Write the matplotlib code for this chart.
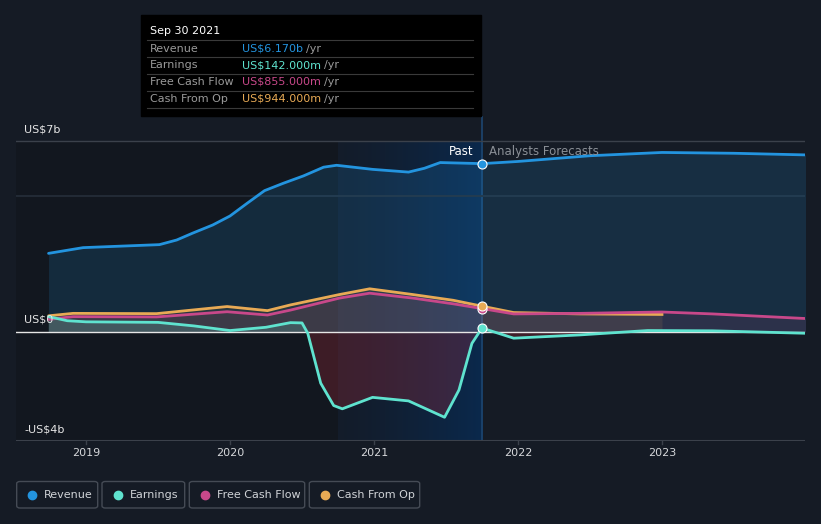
import numpy as np
import matplotlib
matplotlib.use("Agg")
import matplotlib.pyplot as plt
from matplotlib.patches import Rectangle, FancyBboxPatch
from matplotlib.lines import Line2D

W, H = 821, 524
BG = "#151b25"

# values in US$ billions, x in fractional years
rev_x = [2018.74, 2018.98, 2019.17, 2019.51, 2019.63, 2019.74, 2019.88, 2020.0, 2020.12,
         2020.24, 2020.37, 2020.51, 2020.65, 2020.74, 2020.99, 2021.24, 2021.35, 2021.46, 2021.75]
rev_y = [2.88, 3.09, 3.13, 3.20, 3.37, 3.62, 3.92, 4.25, 4.72,
         5.18, 5.45, 5.72, 6.04, 6.11, 5.96, 5.86, 6.00, 6.21, 6.17]
rev_fx = [2021.75, 2022.0, 2022.5, 2023.0, 2023.5, 2024.0]
rev_fy = [6.17, 6.25, 6.46, 6.58, 6.55, 6.49]

earn_x = [2018.74, 2018.87, 2019.0, 2019.5, 2019.75, 2020.0, 2020.25, 2020.42, 2020.5,
          2020.54, 2020.63, 2020.72, 2020.78, 2020.99, 2021.24, 2021.49, 2021.59, 2021.68, 2021.75]
earn_y = [0.56, 0.41, 0.37, 0.35, 0.22, 0.05, 0.17, 0.34, 0.33,
          -0.05, -1.88, -2.70, -2.82, -2.40, -2.53, -3.13, -2.13, -0.42, 0.142]
earn_fx = [2021.75, 2021.97, 2022.43, 2022.9, 2023.35, 2024.0]
earn_fy = [0.142, -0.23, -0.11, 0.05, 0.04, -0.05]

fcf_x = [2018.74, 2018.91, 2019.49, 2019.98, 2020.26, 2020.42, 2020.76, 2020.97, 2021.27, 2021.55, 2021.75]
fcf_y = [0.46, 0.56, 0.55, 0.74, 0.62, 0.80, 1.24, 1.42, 1.24, 1.03, 0.855]
fcf_fx = [2021.75, 2021.97, 2022.43, 2023.0, 2023.35, 2024.0]
fcf_fy = [0.855, 0.66, 0.68, 0.73, 0.66, 0.49]

cfo_x = [2018.74, 2018.91, 2019.49, 2019.98, 2020.26, 2020.42, 2020.76, 2020.97, 2021.27, 2021.55, 2021.75]
cfo_y = [0.59, 0.68, 0.67, 0.93, 0.78, 0.99, 1.37, 1.58, 1.37, 1.16, 0.944]
cfo_fx = [2021.75, 2021.97, 2022.43, 2023.0]
cfo_fy = [0.944, 0.71, 0.66, 0.64]

years = [2019, 2020, 2021, 2022, 2023]
series = ["Revenue", "Earnings", "Free Cash Flow", "Cash From Op"]
colors = ["#2394df", "#5fe3cf", "#c8488a", "#e8aa55"]
tip_values = ["US$6.170b", "US$142.000m", "US$855.000m", "US$944.000m"]

PAST_START, NOW = 2020.75, 2021.75

fig = plt.figure(figsize=(W / 100, H / 100), dpi=100, facecolor=BG)
x0, x1 = 16 / W, 805 / W
y0, y1 = 1 - 441 / H, 1 - 116 / H
ax = fig.add_axes([x0, y0, x1 - x0, y1 - y0])
ax.set_facecolor(BG)
ymin, ymax = -4, 7 + 25 / 27.27
ax.set_xlim(2018.514, 2023.993)
ax.set_ylim(ymin, ymax)
for s in ax.spines.values():
    s.set_visible(False)
ax.set_yticks([])
ax.set_xticks([])

# darker plot area left of the highlight
ax.axvspan(2018.514, PAST_START, ymin=0, ymax=(7 - ymin) / (ymax - ymin), color="#12171f", lw=0, zorder=0.3)

# past year highlight (gradient -> blue)
n = 256
grad = np.zeros((1, n, 4))
t = np.linspace(0, 1, n)
c0 = np.array([0.075, 0.11, 0.165])
c1 = np.array([0.04, 0.16, 0.30])
grad[0, :, :3] = c0 + (c1 - c0) * t[:, None] ** 1.3
grad[0, :, 3] = 1.0
ax.imshow(grad, extent=[PAST_START, NOW, ymin, 7], aspect="auto", zorder=0.5, interpolation="bilinear")
ax.axvline(NOW, color="#1d4670", lw=1.2, zorder=0.6)

# grid
ax.axhline(7, color="#3b414b", lw=1, zorder=1)
ax.axhline(5, color="#222a35", lw=1.5, zorder=1)
ax.axhline(ymin, color="#3b414b", lw=1.5, zorder=1)

# fills
rx = rev_x + rev_fx[1:]
ry = rev_y + rev_fy[1:]
ax.fill_between(rx, ry, 0, color="#2394df", alpha=0.16, lw=0, zorder=1.2)
ax.fill_between(fcf_x + fcf_fx[1:], fcf_y + fcf_fy[1:], 0, color="#c8488a", alpha=0.12, lw=0, zorder=1.3)
ax.fill_between(cfo_x + cfo_fx[1:], cfo_y + cfo_fy[1:], 0, color="#e8aa55", alpha=0.10, lw=0, zorder=1.3)
ex = np.array(earn_x + earn_fx[1:])
ey = np.array(earn_y + earn_fy[1:])
ax.fill_between(ex, ey, 0, where=ey >= 0, interpolate=True, color="#5fe3cf", alpha=0.18, lw=0, zorder=1.4)
ax.fill_between(ex, ey, 0, where=ey < 0, interpolate=True, color="#d62f3f", alpha=0.22, lw=0, zorder=1.4)

ax.axhline(0, color="#e6e6e6", lw=1, zorder=2)

# lines
lw = 2.0
kw = dict(lw=lw, solid_capstyle="round", solid_joinstyle="round")
ax.plot(rev_x, rev_y, color=colors[0], zorder=3, **kw)
ax.plot(rev_fx, rev_fy, color=colors[0], zorder=3, **kw)
ax.plot(cfo_x, cfo_y, color=colors[3], zorder=3, **kw)
ax.plot(cfo_fx, cfo_fy, color=colors[3], zorder=3, lw=lw, solid_joinstyle="round")
ax.plot(fcf_x, fcf_y, color=colors[2], zorder=3.1, **kw)
ax.plot(fcf_fx, fcf_fy, color=colors[2], zorder=3.1, **kw)
ax.plot(earn_x, earn_y, color=colors[1], zorder=3.2, **kw)
ax.plot(earn_fx, earn_fy, color=colors[1], zorder=3.2, **kw)

# markers at the present
for v, c in [(rev_y[-1], colors[0]), (fcf_y[-1], colors[2]), (cfo_y[-1], colors[3]), (earn_y[-1], colors[1])]:
    ax.plot([NOW], [v], "o", ms=6.5, color=c, mec="white", mew=0.8, zorder=4)

ax.text(NOW - 0.06, 6.62, "Past", color="white", fontsize=8.5, ha="right", va="center", zorder=5)
ax.text(NOW + 0.05, 6.62, "Analysts Forecasts", color="#8a8f96", fontsize=8.5, ha="left", va="center", zorder=5)

# x ticks
for yr in years:
    ax.plot([yr, yr], [ymin, ymin - 0.12], color="#3b414b", lw=1, clip_on=False)
    ax.text(yr, ymin - 0.45, str(yr), color="#d5d7da", fontsize=8, ha="center", va="center")

# y labels
def fx(px):
    return px / W

def fy(py):
    return 1 - py / H

fig.text(fx(24), fy(129), "US$7b", color="#e6e6e6", fontsize=8, va="center")
fig.text(fx(24), fy(320), "US$0", color="#e6e6e6", fontsize=8, va="center")
fig.text(fx(24), fy(429), "-US$4b", color="#e6e6e6", fontsize=8, va="center")

# tooltip
fig.add_artist(Rectangle((fx(141), fy(116)), fx(481) - fx(141), fy(15) - fy(116),
                         transform=fig.transFigure, color="black", zorder=10))
fig.text(fx(150), fy(31), "Sep 30 2021", color="white", fontsize=8, va="center", zorder=11)
for yl in [40, 57, 74, 91, 108]:
    fig.add_artist(Line2D([fx(147), fx(473)], [fy(yl), fy(yl)], color="#3a3a3a", lw=0.8,
                          transform=fig.transFigure, zorder=11))
for i, (name, val, c) in enumerate(zip(series, tip_values, colors)):
    yc = 48.5 + i * 16.7
    fig.text(fx(150), fy(yc), name, color="#9a9a9a", fontsize=8, va="center", zorder=11)
    t1 = fig.text(fx(242), fy(yc), val, color=c, fontsize=8, va="center", zorder=11)
    fig.canvas.draw()
    bb = t1.get_window_extent()
    fig.text(bb.x1 / W + 3 / W, fy(yc), "/yr", color="#9a9a9a", fontsize=8, va="center", zorder=11)

# legend boxes
boxes = [(16.7, 97.7), (102, 184.7), (189.3, 304.7), (309.3, 419.7)]
for (bx0, bx1), name, c in zip(boxes, series, colors):
    fig.add_artist(FancyBboxPatch((fx(bx0), fy(508)), fx(bx1) - fx(bx0), fy(481.5) - fy(508),
                                  boxstyle="round,pad=0,rounding_size=0.004", transform=fig.transFigure,
                                  fc="none", ec="#454b55", lw=1))
    fig.add_artist(Line2D([fx(bx0 + 15.5)], [fy(494.5)], marker="o", ms=6, color=c,
                          transform=fig.transFigure, lw=0))
    fig.text(fx(bx0 + 27.5), fy(494.5), name, color="#d0d3d7", fontsize=8, va="center")

fig.savefig("out.png", dpi=100, facecolor=BG)
